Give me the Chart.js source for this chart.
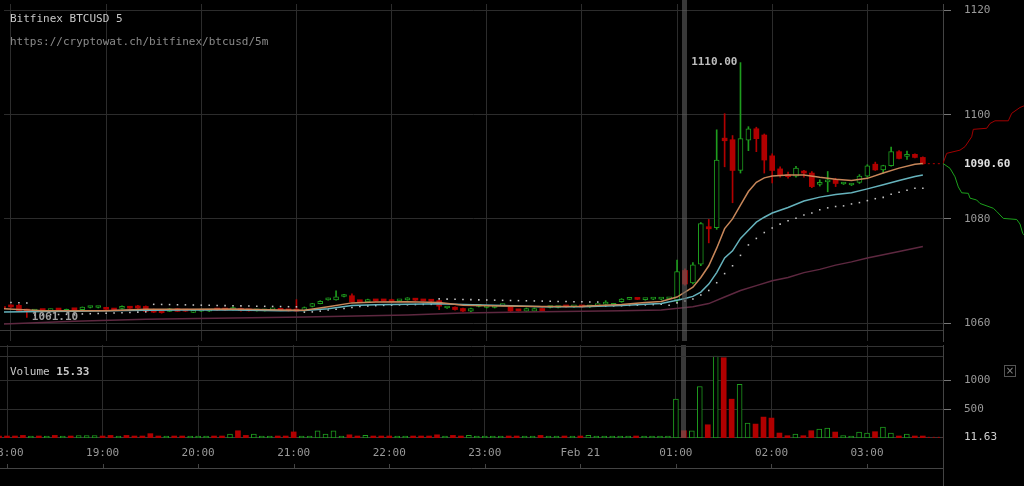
<!DOCTYPE html>
<html>
<head>
<meta charset="utf-8">
<script src="https://cdn.jsdelivr.net/npm/chart.js@4.4.1/dist/chart.umd.min.js"></script>
<style>
html, body { margin: 0; padding: 0; background: #000; }
#wrap { position: relative; width: 1024px; height: 486px; overflow: hidden; background: #000;
        font-family: 'DejaVu Sans Mono', monospace; font-size: 11px; }
canvas { position: absolute; }
#main { left: 0; top: 0; }
#depth { left: 943px; top: 0; }
#vol { left: 0; top: 345px; }
.lbl { position: absolute; white-space: pre; line-height: 13px; }
#closeBox { position: absolute; left: 1004px; top: 365px; width: 10px; height: 10px; border: 1px solid #555;
            color: #888; font: 10px 'DejaVu Sans', sans-serif; line-height: 10px; text-align: center; }
</style>
</head>
<body>
<div id="wrap">
  <canvas id="main" width="1024" height="345"></canvas>
  <canvas id="depth" width="81" height="345"></canvas>
  <canvas id="vol" width="1024" height="141"></canvas>
  <div class="lbl" style="left:10px;top:12px;color:#c8c8c8">Bitfinex BTCUSD 5</div>
  <div class="lbl" style="left:10px;top:35px;color:#8a8a8a">https://cryptowat.ch/bitfinex/btcusd/5m</div>
  <div class="lbl" style="left:10px;top:365px;color:#c8c8c8">Volume <b>15.33</b></div>
  <div id="closeBox">&times;</div>
</div>
<script>
// 5 minute candles, first one is 17:55 (index -1), minutes counted from 18:00
const firstCandle = -1;
const opens = [
  1062.9, 1063.3, 1063.4, 1062.6, 1062.3, 1062.5, 1062.4, 1062.6, 1062.25, 1062.65,
  1062.6, 1063.0, 1063.0, 1062.75, 1062.6, 1062.8, 1062.95, 1063.3, 1063.2, 1062.6,
  1062.1, 1062.25, 1062.75, 1062.4, 1062.05, 1062.3, 1062.3, 1062.6, 1062.6, 1062.6,
  1062.8, 1062.45, 1062.35, 1062.35, 1062.55, 1062.55, 1062.45, 1062.4, 1062.4, 1063.2,
  1063.75, 1064.45, 1064.45, 1065.1, 1065.25, 1064.2, 1064.05, 1064.35, 1064.35, 1064.5,
  1064.25, 1064.45, 1064.5, 1064.35, 1064.3, 1064.3, 1062.9, 1063.05, 1062.8, 1062.3,
  1063.2, 1063.0, 1063.0, 1063.35, 1063.05, 1062.45, 1062.3, 1062.3, 1062.8, 1063.0,
  1063.0, 1063.2, 1063.1, 1063.2, 1063.1, 1063.35, 1063.65, 1063.4, 1064.1, 1064.55,
  1064.65, 1064.5, 1064.6, 1064.6, 1064.65, 1064.4, 1070.1, 1067.7, 1071.3, 1078.5,
  1078.3, 1095.5, 1095.2, 1089.3, 1095.1, 1097.3, 1096.1, 1092.1, 1089.6, 1088.5,
  1088.2, 1089.0, 1088.8, 1086.6, 1087.1, 1087.6, 1086.7, 1086.5, 1087.0, 1088.2,
  1090.5, 1089.4, 1090.2, 1092.9, 1092.0, 1092.4, 1091.8
];
const highs = [
  1063.0, 1063.5, 1063.6, 1062.7, 1062.6, 1062.6, 1062.7, 1062.7, 1062.7, 1062.7,
  1063.1, 1063.2, 1063.2, 1062.8, 1062.7, 1063.3, 1063.0, 1063.4, 1063.3, 1062.7,
  1062.2, 1062.8, 1062.8, 1062.5, 1062.4, 1062.5, 1062.5, 1062.7, 1062.7, 1063.1,
  1062.9, 1062.5, 1062.5, 1062.5, 1062.7, 1062.6, 1062.5, 1064.5, 1063.1, 1063.8,
  1064.3, 1064.8, 1066.2, 1065.5, 1065.6, 1064.3, 1064.6, 1064.4, 1064.4, 1064.6,
  1064.4, 1064.9, 1064.6, 1064.4, 1064.4, 1064.4, 1063.1, 1063.1, 1062.9, 1062.9,
  1063.4, 1063.2, 1063.2, 1063.5, 1063.1, 1062.5, 1062.9, 1062.9, 1062.9, 1063.2,
  1063.2, 1063.3, 1063.3, 1063.3, 1063.3, 1063.5, 1064.3, 1063.8, 1064.7, 1064.7,
  1064.7, 1064.7, 1064.8, 1064.8, 1064.9, 1072.1, 1070.4, 1071.6, 1079.3, 1079.9,
  1097.1, 1100.2, 1096.0, 1110.0, 1097.7, 1097.6, 1096.3, 1092.5, 1090.0, 1089.0,
  1090.1, 1089.3, 1089.1, 1087.5, 1089.1, 1087.8, 1087.0, 1086.8, 1088.5, 1090.4,
  1090.9, 1090.3, 1093.8, 1093.1, 1093.0, 1092.5, 1091.9
];
const lows = [
  1062.7, 1063.0, 1062.3, 1061.1, 1062.2, 1062.3, 1062.3, 1062.4, 1062.2, 1062.5,
  1062.5, 1062.9, 1062.9, 1062.6, 1062.4, 1062.7, 1062.8, 1062.8, 1062.2, 1062.0,
  1061.9, 1062.2, 1062.2, 1062.2, 1062.0, 1062.2, 1062.2, 1062.4, 1062.4, 1062.5,
  1062.3, 1062.3, 1062.3, 1062.3, 1062.5, 1062.4, 1062.3, 1062.2, 1062.3, 1063.1,
  1063.7, 1064.4, 1064.4, 1065.0, 1064.0, 1064.0, 1064.0, 1064.2, 1064.2, 1064.0,
  1064.2, 1064.4, 1064.3, 1064.2, 1064.1, 1062.6, 1062.8, 1062.5, 1062.2, 1062.2,
  1063.1, 1062.9, 1062.9, 1063.3, 1062.2, 1062.3, 1062.2, 1062.2, 1062.2, 1062.9,
  1062.9, 1063.0, 1063.0, 1063.0, 1063.0, 1063.3, 1063.6, 1063.3, 1064.0, 1064.5,
  1064.5, 1064.4, 1064.5, 1064.5, 1064.6, 1064.0, 1067.3, 1067.5, 1071.0, 1075.4,
  1078.0, 1090.0, 1083.1, 1088.8, 1093.1, 1092.9, 1088.8, 1086.9, 1088.0, 1087.8,
  1088.0, 1088.0, 1086.0, 1086.3, 1085.2, 1086.2, 1086.6, 1086.4, 1086.8, 1088.0,
  1089.3, 1088.8, 1090.1, 1091.5, 1091.4, 1091.7, 1090.5
];
const closes = [
  1062.8, 1063.1, 1062.4, 1062.3, 1062.5, 1062.4, 1062.6, 1062.5, 1062.65, 1062.55,
  1063.05, 1063.1, 1063.1, 1062.65, 1062.5, 1063.2, 1062.85, 1062.9, 1062.25, 1062.1,
  1062.0, 1062.75, 1062.25, 1062.3, 1062.35, 1062.4, 1062.4, 1062.5, 1062.5, 1063.0,
  1062.4, 1062.35, 1062.45, 1062.45, 1062.65, 1062.45, 1062.35, 1062.3, 1063.0, 1063.75,
  1064.2, 1064.55, 1065.05, 1065.2, 1064.05, 1064.1, 1064.5, 1064.25, 1064.25, 1064.1,
  1064.35, 1064.55, 1064.4, 1064.25, 1064.2, 1063.25, 1063.0, 1062.6, 1062.3, 1062.8,
  1063.3, 1063.1, 1063.1, 1063.45, 1062.3, 1062.35, 1062.8, 1062.8, 1062.3, 1063.1,
  1063.1, 1063.1, 1063.2, 1063.1, 1063.2, 1063.45, 1063.75, 1063.75, 1064.6, 1064.65,
  1064.55, 1064.6, 1064.7, 1064.7, 1064.75, 1069.9, 1067.5, 1071.2, 1079.1, 1078.1,
  1091.3, 1095.0, 1089.3, 1095.4, 1097.3, 1095.4, 1091.3, 1089.3, 1088.4, 1088.1,
  1089.75, 1088.8, 1086.2, 1087.0, 1087.4, 1086.8, 1086.9, 1086.7, 1088.2, 1090.2,
  1089.4, 1090.25, 1092.9, 1091.6, 1092.3, 1091.8, 1090.6
];
const volumes = [
  25, 30, 25, 45, 25, 25, 25, 45, 25, 25,
  40, 40, 40, 25, 45, 25, 45, 25, 25, 75,
  25, 25, 25, 25, 25, 25, 25, 25, 25, 70,
  125, 45, 70, 25, 25, 25, 25, 105, 25, 25,
  125, 70, 125, 25, 55, 25, 45, 25, 25, 25,
  25, 25, 25, 25, 25, 55, 25, 45, 25, 45,
  25, 25, 25, 25, 25, 25, 25, 25, 45, 25,
  25, 25, 25, 25, 45, 25, 25, 25, 25, 25,
  25, 25, 25, 25, 25, 672, 126, 126, 891, 229,
  1420, 1390, 672, 931, 259, 241, 362, 345, 86, 40,
  69, 40, 126, 155, 172, 103, 40, 22, 103, 86,
  109, 190, 86, 17, 69, 17, 11.63
];
// parabolic SAR dots, one per candle
const sar = [
  1064.0, 1063.95, 1063.9, 1063.85, 1061.55, 1061.6, 1061.62, 1061.65, 1061.68, 1061.72,
  1061.76, 1061.8, 1061.85, 1061.9, 1061.95, 1062.0, 1062.05, 1062.1, 1062.15, 1063.6,
  1063.58, 1063.55, 1063.52, 1063.5, 1063.47, 1063.44, 1063.41, 1063.38, 1063.35, 1063.33,
  1063.3, 1063.27, 1063.25, 1063.22, 1063.2, 1063.18, 1063.15, 1063.12, 1062.1, 1062.15,
  1062.3, 1062.5, 1062.65, 1062.8, 1063.0, 1063.2, 1063.3, 1063.35, 1063.4, 1063.45,
  1063.5, 1063.52, 1063.55, 1063.58, 1063.6, 1064.65, 1064.6, 1064.56, 1064.53, 1064.5,
  1064.46, 1064.43, 1064.4, 1064.37, 1064.34, 1064.31, 1064.28, 1064.25, 1064.22, 1064.19,
  1064.16, 1064.13, 1064.1, 1064.08, 1064.06, 1064.04, 1063.3, 1063.32, 1063.35, 1063.4,
  1063.45, 1063.5, 1063.55, 1063.6, 1063.44, 1063.88, 1064.25, 1064.63, 1065.38, 1066.26,
  1067.75, 1069.5, 1071.0, 1073.0, 1075.0, 1076.25, 1077.38, 1078.26, 1079.0, 1079.63,
  1080.13, 1080.75, 1081.13, 1081.75, 1082.12, 1082.38, 1082.5, 1082.87, 1083.13, 1083.51,
  1083.88, 1084.13, 1084.74, 1085.12, 1085.49, 1085.87, 1085.87
];
// moving averages read at these candle indices
const maIdx = [-1, 4, 8, 12, 17, 22, 28, 34, 37, 40, 43, 46, 50, 54, 57, 62, 67, 72, 77, 80, 82,
  84, 85, 86, 87, 88, 89, 90, 91, 92, 93, 94, 95, 96, 98, 100, 102, 104, 106, 108, 110, 112, 114, 115];
const emaFast = [1062.75, 1062.38, 1062.38, 1062.38, 1062.66, 1062.66, 1062.69, 1062.51, 1062.47, 1063.13,
  1063.88, 1064.06, 1064.12, 1063.97, 1063.41, 1063.28, 1063.18, 1063.22, 1063.59, 1063.97, 1064.16,
  1065.0, 1065.94, 1066.88, 1068.75, 1071.0, 1074.38, 1078.13, 1080.0, 1082.63, 1085.25, 1087.03,
  1087.88, 1088.25, 1088.44, 1088.44, 1088.0, 1087.63, 1087.37, 1087.78, 1088.81, 1089.75, 1090.5, 1090.63];
const emaSlow = [1062.13, 1062.24, 1062.28, 1062.38, 1062.47, 1062.51, 1062.51, 1062.38, 1062.41, 1062.75,
  1063.37, 1063.5, 1063.63, 1063.69, 1063.59, 1063.37, 1063.13, 1063.13, 1063.37, 1063.63, 1063.74,
  1064.38, 1064.72, 1065.13, 1065.94, 1067.49, 1069.69, 1072.5, 1073.87, 1076.25, 1077.81, 1079.38,
  1080.32, 1081.13, 1082.19, 1083.43, 1084.18, 1084.69, 1085.01, 1085.76, 1086.56, 1087.37, 1088.12, 1088.44];
const longIdx = [-1, 8, 17, 28, 37, 50, 57, 67, 77, 82, 86, 88, 90, 92, 94, 96, 98, 100, 102, 104, 106, 108, 110, 112, 115];
const maLong = [1059.84, 1060.37, 1060.74, 1061.0, 1061.19, 1061.57, 1061.94, 1062.19, 1062.38, 1062.51,
  1063.13, 1063.74, 1065.0, 1066.26, 1067.19, 1068.13, 1068.75, 1069.69, 1070.31, 1071.13, 1071.75,
  1072.5, 1073.12, 1073.76, 1074.69];
// order book depth (cumulative size vs price)
const askDepth = [0, 37, 170, 220, 287, 303, 437, 470, 520, 653, 687, 770, 810];
const askPrice = [1090.6, 1092.5, 1093.1, 1093.75, 1095.6, 1097.0, 1097.2, 1098.1, 1098.6, 1098.6, 1100.0, 1101.1, 1101.4];
const bidDepth = [0, 70, 120, 153, 187, 253, 270, 337, 370, 503, 537, 603, 737, 770, 797, 810];
const bidPrice = [1090.6, 1089.7, 1088.1, 1086.2, 1085.1, 1085.0, 1084.1, 1083.75, 1083.1, 1082.2, 1081.6, 1080.3, 1080.1, 1079.25, 1077.5, 1077.2];

const hourTicks = [0, 60, 120, 180, 240, 300, 360, 420, 480, 540];
const hourLabels = ['18:00', '19:00', '20:00', '21:00', '22:00', '23:00', 'Feb 21', '01:00', '02:00', '03:00'];
const priceTicks = [1060, 1080, 1100, 1120];
const volumeTicks = [500, 1000];
const lastPrice = 1090.6;
const lastVolume = 11.63;
const crossCandle = 85;

const xMin = -4.4, xMax = 587.7;
const priceMin = 1056.5625, priceMax = 1121.25;

const GREEN = '#1e9c1e';
const RED = '#b10000';
const GRID = '#2c2c2c';
const FONT = "'DejaVu Sans Mono', monospace";

Chart.defaults.font.family = FONT;
Chart.defaults.font.size = 11;
Chart.defaults.color = '#999';

const minute = k => (firstCandle + k) * 5;
const isUp = k => closes[k] >= opens[k];

const bodyData = opens.map((o, k) => ({ x: minute(k), y: [o, closes[k]] }));
const wickData = opens.map((o, k) => ({ x: minute(k), y: [lows[k], highs[k]] }));
const upColors = opens.map((o, k) => isUp(k) ? '#000' : RED);
const lineColors = opens.map((o, k) => isUp(k) ? GREEN : RED);
const lastX = minute(opens.length - 1);

const crossPlugin = {
  id: 'cross',
  afterDatasetsDraw(chart) {
    const ctx = chart.ctx;
    const x = chart.scales.x.getPixelForValue(minute(crossCandle - firstCandle));
    ctx.save();
    ctx.fillStyle = 'rgba(95,95,95,0.6)';
    ctx.fillRect(Math.round(x) - 3, 0, 5, chart.chartArea.bottom);
    ctx.restore();
  }
};

// high / low labels of the visible range, plus the lower pane edge
const extremesPlugin = {
  id: 'extremes',
  beforeDatasetsDraw(chart) {
    const ctx = chart.ctx;
    ctx.save();
    ctx.strokeStyle = '#3a3a3a';
    ctx.beginPath();
    ctx.moveTo(0, 330.5); ctx.lineTo(chart.chartArea.right, 330.5);
    ctx.stroke();
    ctx.restore();
  },
  afterDatasetsDraw(chart) {
    const { x, y } = chart.scales;
    const hi = highs.indexOf(Math.max(...highs));
    const lo = lows.indexOf(Math.min(...lows));
    const ctx = chart.ctx;
    ctx.save();
    ctx.font = 'bold 11px ' + FONT;
    ctx.textBaseline = 'middle';
    ctx.fillStyle = '#bdbdbd';
    ctx.textAlign = 'right';
    ctx.fillText(highs[hi].toFixed(2), x.getPixelForValue(minute(hi)) - 3, y.getPixelForValue(highs[hi]));
    ctx.fillStyle = '#a0a0a0';
    ctx.textAlign = 'left';
    ctx.fillText(lows[lo].toFixed(2), x.getPixelForValue(minute(lo)) + 5, y.getPixelForValue(lows[lo]));
    ctx.restore();
  }
};

const volFramePlugin = {
  id: 'volFrame',
  afterDraw(chart) {
    const ctx = chart.ctx;
    const area = chart.chartArea;
    const xs = chart.scales.x;
    ctx.save();
    ctx.strokeStyle = '#333';
    ctx.lineWidth = 1;
    ctx.beginPath();
    ctx.moveTo(0, 1.5); ctx.lineTo(area.right, 1.5);
    ctx.moveTo(0, 11.5); ctx.lineTo(area.right, 11.5);
    ctx.stroke();
    ctx.strokeStyle = '#444';
    ctx.beginPath();
    ctx.moveTo(0, 123.5); ctx.lineTo(area.right, 123.5);
    hourTicks.forEach(t => {
      const px = Math.round(xs.getPixelForValue(t)) + 0.5;
      ctx.moveTo(px, 119); ctx.lineTo(px, 123);
    });
    ctx.moveTo(area.right + 0.5, area.bottom); ctx.lineTo(area.right + 0.5, chart.height);
    ctx.stroke();
    ctx.restore();
  }
};

const xTimeAxis = {
  type: 'linear', min: xMin, max: xMax, offset: false,
  afterBuildTicks: s => { s.ticks = hourTicks.map(v => ({ value: v })); },
  grid: { color: GRID, drawTicks: false, offset: false },
  border: { display: false }
};

// price panel
new Chart(document.getElementById('main'), {
  type: 'bar',
  data: {
    datasets: [
      { type: 'line', data: maIdx.map((c, k) => ({ x: c * 5, y: emaFast[k] })), borderColor: '#c8875a',
        borderWidth: 1.5, pointRadius: 0, order: 0 },
      { type: 'line', data: maIdx.map((c, k) => ({ x: c * 5, y: emaSlow[k] })), borderColor: '#66b3bd',
        borderWidth: 1.5, pointRadius: 0, order: 0 },
      { type: 'line', data: longIdx.map((c, k) => ({ x: c * 5, y: maLong[k] })), borderColor: '#5e2840',
        borderWidth: 1.5, pointRadius: 0, order: 0 },
      { type: 'line', data: sar.map((v, k) => ({ x: minute(k), y: v })), showLine: false,
        pointRadius: 1.1, pointStyle: 'rect', pointBackgroundColor: '#c4c4c4', pointBorderWidth: 0, order: 0 },
      { type: 'line', data: [{ x: lastX, y: lastPrice }, { x: xMax, y: lastPrice }], borderColor: RED,
        borderWidth: 1, borderDash: [2, 3], pointRadius: 0, order: 0 },
      { data: bodyData, backgroundColor: upColors, borderColor: lineColors,
        borderWidth: opens.map((o, k) => isUp(k) ? 1 : 0), borderSkipped: false,
        barThickness: 5, minBarLength: 2, grouped: false, order: 1 },
      { data: wickData, backgroundColor: lineColors, barThickness: 1, grouped: false, order: 2 }
    ]
  },
  options: {
    responsive: false, animation: false,
    layout: { padding: 0 },
    plugins: { legend: { display: false }, tooltip: { enabled: false } },
    scales: {
      x: Object.assign({}, xTimeAxis, {
        ticks: { display: false },
        afterFit: s => { s.height = 0; s.paddingLeft = 0; s.paddingRight = 0; }
      }),
      y: {
        type: 'linear', position: 'right', min: priceMin, max: priceMax,
        afterBuildTicks: s => { s.ticks = priceTicks.concat([lastPrice]).map(v => ({ value: v })); },
        afterFit: s => { s.width = 81; s.paddingTop = 0; s.paddingBottom = 0; },
        grid: {
          color: c => c.tick && c.tick.value === lastPrice ? 'rgba(0,0,0,0)' : GRID,
          tickColor: c => c.tick && c.tick.value === lastPrice ? 'rgba(0,0,0,0)' : '#777',
          tickLength: 8
        },
        border: { color: '#444' },
        ticks: {
          padding: 13,
          callback: v => v === lastPrice ? v.toFixed(2) : String(v),
          color: c => c.tick && c.tick.value === lastPrice ? '#e0e0e0' : '#999',
          font: c => ({ family: FONT, size: 11, weight: c.tick && c.tick.value === lastPrice ? 'bold' : 'normal' })
        }
      }
    }
  },
  plugins: [crossPlugin, extremesPlugin]
});

// order book depth beside the price axis
new Chart(document.getElementById('depth'), {
  type: 'line',
  data: {
    datasets: [
      { data: askDepth.map((d, k) => ({ x: d, y: askPrice[k] })), borderColor: '#a00000', borderWidth: 1, pointRadius: 0 },
      { data: bidDepth.map((d, k) => ({ x: d, y: bidPrice[k] })), borderColor: '#1ca01c', borderWidth: 1, pointRadius: 0 }
    ]
  },
  options: {
    responsive: false, animation: false,
    layout: { padding: 0 },
    plugins: { legend: { display: false }, tooltip: { enabled: false } },
    scales: {
      x: { type: 'linear', min: 0, max: 810, display: false },
      y: { type: 'linear', min: priceMin, max: priceMax, display: false }
    }
  }
});

// volume panel
new Chart(document.getElementById('vol'), {
  type: 'bar',
  data: {
    datasets: [
      { type: 'line', data: [{ x: lastX, y: lastVolume }, { x: xMax, y: lastVolume }], borderColor: RED,
        borderWidth: 1, borderDash: [2, 3], pointRadius: 0, order: 0 },
      { data: volumes.map((v, k) => ({ x: minute(k), y: v })), backgroundColor: upColors, borderColor: lineColors,
        borderWidth: opens.map((o, k) => isUp(k) ? 1 : 0), borderSkipped: false,
        barThickness: 5, minBarLength: 2, grouped: false, order: 1 }
    ]
  },
  options: {
    responsive: false, animation: false,
    layout: { padding: 0 },
    plugins: { legend: { display: false }, tooltip: { enabled: false } },
    scales: {
      x: Object.assign({}, xTimeAxis, {
        ticks: { padding: 9, autoSkip: false, maxRotation: 0,
          callback: v => hourLabels[hourTicks.indexOf(v)] },
        afterFit: s => { s.height = 48; s.paddingLeft = 0; s.paddingRight = 0; }
      }),
      y: {
        type: 'linear', position: 'right', min: 0, max: 1610,
        afterBuildTicks: s => { s.ticks = [lastVolume].concat(volumeTicks).map(v => ({ value: v })); },
        afterFit: s => { s.width = 81; s.paddingTop = 0; s.paddingBottom = 0; },
        grid: {
          color: c => c.tick && c.tick.value === lastVolume ? '#3a3a3a' : GRID,
          tickColor: c => c.tick && c.tick.value === lastVolume ? 'rgba(0,0,0,0)' : '#777',
          tickLength: 8
        },
        border: { color: '#444' },
        ticks: {
          padding: 13,
          callback: v => v === lastVolume ? v.toFixed(2) : String(v),
          color: c => c.tick && c.tick.value === lastVolume ? '#cfcfcf' : '#999'
        }
      }
    }
  },
  plugins: [crossPlugin, volFramePlugin]
});
</script>
</body>
</html>
